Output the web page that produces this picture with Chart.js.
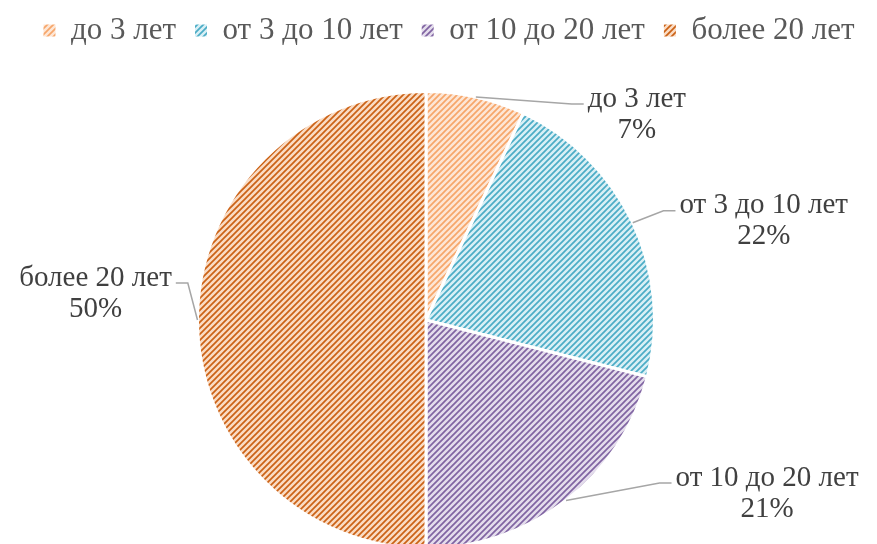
<!DOCTYPE html>
<html>
<head>
<meta charset="utf-8">
<script src="https://cdn.jsdelivr.net/npm/chart.js@4.4.1/dist/chart.umd.min.js"></script>
<style>
  html, body { margin: 0; padding: 0; background: #fff; overflow: hidden; }
  #wrap { position: relative; width: 877px; height: 550px; }
</style>
</head>
<body>
<div id="wrap"><canvas id="pieChart"></canvas></div>
<script>
// data
const categories = ["до 3 лет", "от 3 до 10 лет", "от 10 до 20 лет", "более 20 лет"];
const shares = [7, 22, 21, 50];

// colours: stripe colour + light background for each slice
const stripeColors = ["#F6A66A", "#4BACC6", "#8064A2", "#CB6216"];
const backColors = ["#FDE6D5", "#D9EFF5", "#E4DDEC", "#FADCC4"];

// where each data label sits relative to the arc mid point (px)
const labelOffsets = [[161, 17.5], [131, -1.5], [201, -7], [-102, -26.5]];

function makePattern(stripe, back) {
    const c = document.createElement("canvas");
    c.width = 6; c.height = 6;
    const g = c.getContext("2d");
    g.fillStyle = back;
    g.fillRect(0, 0, 6, 6);
    g.strokeStyle = stripe;
    g.lineWidth = 1.7;
    g.beginPath();
    g.moveTo(-1, 7); g.lineTo(7, -1);
    g.moveTo(-4, 4); g.lineTo(4, -4);
    g.moveTo(2, 10); g.lineTo(10, 2);
    g.stroke();
    return g.createPattern(c, "repeat");
}

const patterns = stripeColors.map((s, i) => makePattern(s, backColors[i]));

const serif = "'Liberation Serif', 'Times New Roman', serif";
const labelFont = "29px " + serif;

const pieLabels = {
    id: "pieLabels",
    afterDatasetsDraw(chart) {
        const ctx = chart.ctx;
        const meta = chart.getDatasetMeta(0);
        ctx.save();
        ctx.font = labelFont;
        ctx.textAlign = "center";
        ctx.textBaseline = "middle";
        meta.data.forEach((arc, i) => {
            const p = arc.getProps(["x", "y", "startAngle", "endAngle", "outerRadius"], true);
            const mid = (p.startAngle + p.endAngle) / 2;
            const ax = p.x + Math.cos(mid) * p.outerRadius;
            const ay = p.y + Math.sin(mid) * p.outerRadius;
            const cx = ax + labelOffsets[i][0];
            const cy = ay + labelOffsets[i][1];
            const line1 = categories[i];
            const line2 = shares[i] + "%";
            const w = ctx.measureText(line1).width;
            const y1 = cy - 15.5, y2 = cy + 15.5;

            // leader line
            const right = labelOffsets[i][0] > 0;
            const edge = right ? cx - w / 2 - 4 : cx + w / 2 + 4;
            const ly = y1 + 5;
            ctx.strokeStyle = "#A6A6A6";
            ctx.lineWidth = 1.5;
            ctx.beginPath();
            ctx.moveTo(ax, ay);
            ctx.lineTo(edge + (right ? -12 : 12), ly);
            ctx.lineTo(edge, ly);
            ctx.stroke();

            ctx.fillStyle = "#404040";
            ctx.fillText(line1, cx, y1);
            ctx.fillText(line2, cx, y2);
        });
        ctx.restore();
    }
};

// extra space under the legend, and legend nudged like the original
const legendGap = {
    id: "legendGap",
    beforeInit(chart) {
        const fit = chart.legend.fit;
        chart.legend.fit = function () {
            fit.bind(chart.legend)();
            this.height += 26;
        };
    },
    afterLayout(chart) {
        chart.legend.left += 23;
        chart.legend.right += 23;
        chart.legend.top -= 8;
        chart.legend.bottom -= 8;
    }
};

const ctx = document.getElementById("pieChart").getContext("2d");

new Chart(ctx, {
    type: "pie",
    data: {
        labels: categories,
        datasets: [{
            data: shares,
            backgroundColor: patterns,
            borderColor: "#FFFFFF",
            borderWidth: 3
        }]
    },
    options: {
        responsive: true,
        maintainAspectRatio: false,
        animation: false,
        layout: { padding: { top: 4, right: 25, bottom: 0, left: 0 } },
        plugins: {
            legend: {
                position: "top",
                labels: {
                    boxWidth: 12,
                    boxHeight: 12,
                    padding: 19,
                    color: "#595959",
                    font: { family: serif, size: 31 },
                    generateLabels(chart) {
                        const items = Chart.overrides.pie.plugins.legend.labels.generateLabels(chart);
                        items.forEach(it => { it.lineWidth = 0; it.strokeStyle = "rgba(0,0,0,0)"; });
                        return items;
                    }
                }
            },
            tooltip: { enabled: false }
        }
    },
    plugins: [pieLabels, legendGap]
});
</script>
</body>
</html>
